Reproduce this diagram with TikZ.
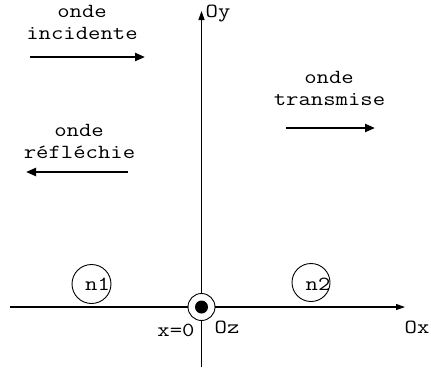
\documentclass[tikz,border=0pt]{standalone}
\usepackage{fontspec}
\setmainfont{Latin Modern Mono}[FakeStretch=1.2]
\usetikzlibrary{arrows.meta}
\begin{document}
\begin{tikzpicture}[x=1pt,y=-1pt,
  lbl/.style={inner sep=0pt,anchor=base,font=\fontsize{20}{22}\selectfont},
  wave/.style={line width=2.2pt,-{Triangle[length=10pt,width=8pt]}},
  axis/.style={line width=1.2pt,-{Triangle[length=9pt,width=6pt]}},
  ring/.style={circle,draw,line width=0.9pt,inner sep=0pt}]
\useasboundingbox (0,0) rectangle (431,367);
% axes
\coordinate (yb) at (201.5,367);
\coordinate (yt) at (201.5,11);
\coordinate (xl) at (10,307);
\coordinate (xr) at (405,307);
\draw[axis] (yb) -- (yt);
\draw[axis] (xl) -- (xr);
% origin
\node[ring,minimum size=27pt,fill=white] (orig) at (201.5,307) {};
\node[circle,fill=black,inner sep=0pt,minimum size=13pt] (dot) at (orig) {};
% axis labels
\node[lbl] (oy) at (218,17) {Oy};
\node[lbl] (ox) at (417,333) {Ox};
\node[lbl] (oz) at (227,333) {Oz};
\node[lbl] (x0) at (176,336) {x=0};
% indices
\node[ring,minimum size=39pt] (c1) at (91.5,284) {};
\node[lbl] (n1) at (97.5,290) {n1};
\node[ring,minimum size=38pt] (c2) at (311,282.5) {};
\node[lbl] (n2) at (318,290) {n2};
% incident
\node[lbl] (i1) at (82,17) {onde};
\node[lbl] (i2) at (82,39) {incidente};
\coordinate (ia) at (30,57);
\coordinate (ib) at (145,57);
\draw[wave] (ia) -- (ib);
% reflected
\node[lbl] (r1) at (79,136) {onde};
\node[lbl] (r2) at (79.5,158) {réfléchie};
\coordinate (ra) at (128,172);
\coordinate (rb) at (26,172);
\draw[wave] (ra) -- (rb);
% transmitted
\node[lbl] (t1) at (329,83) {onde};
\node[lbl] (t2) at (329.5,105) {transmise};
\coordinate (ta) at (286,128);
\coordinate (tb) at (375,128);
\draw[wave] (ta) -- (tb);
\end{tikzpicture}
\end{document}
